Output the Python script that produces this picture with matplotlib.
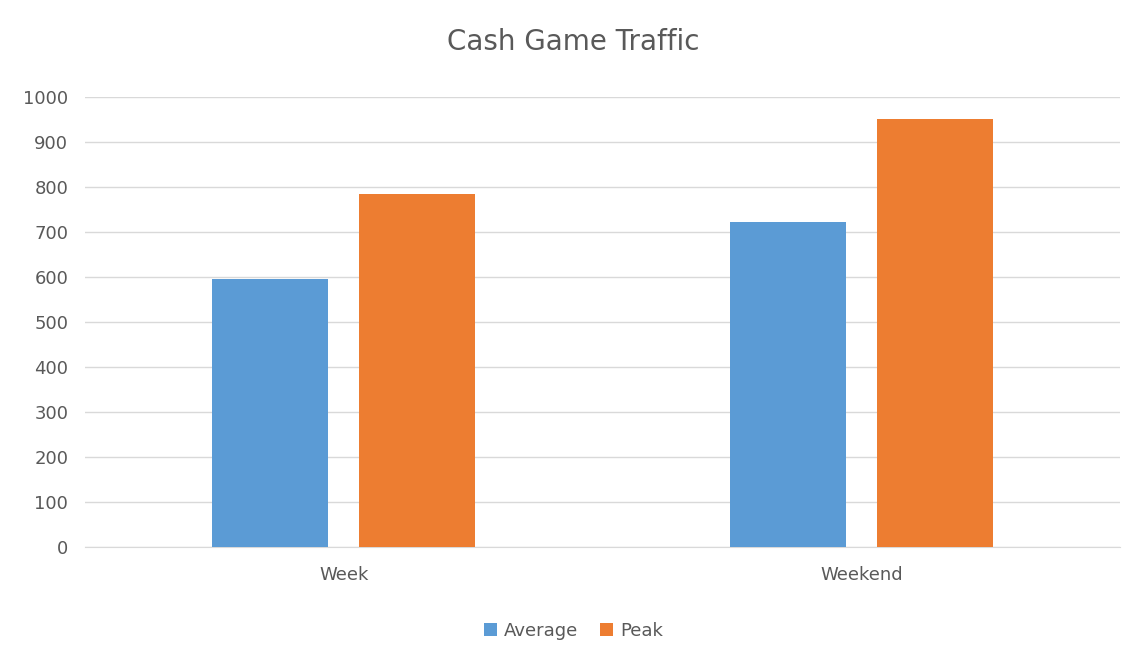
import numpy as np
import matplotlib
matplotlib.use('Agg')
from matplotlib import pyplot as plt

categories = ['Week', 'Weekend']
average = [595, 722]
peak = [785, 952]
yticks = [0, 100, 200, 300, 400, 500, 600, 700, 800, 900, 1000]

fig = plt.figure(figsize=(11.47, 6.63), dpi=100)
ax = fig.add_axes([85 / 1147, 1 - 547 / 663, 1035 / 1147, 450 / 663])

x = np.arange(len(categories))
w = 0.224
ax.bar(x - 0.142, average, w, color='#5b9bd5', label='Average', zorder=3)
ax.bar(x + 0.142, peak, w, color='#ed7d31', label='Peak', zorder=3)

ax.set_xlim(-0.5, 1.5)
ax.set_ylim(0, 1000)
ax.set_yticks(yticks)
ax.set_xticks(x)
ax.set_xticklabels(categories)
ax.grid(axis='y', color='#d9d9d9', linewidth=1, zorder=0)
for s in ['top', 'right', 'left']:
    ax.spines[s].set_visible(False)
ax.spines['bottom'].set_color('#d9d9d9')
ax.tick_params(length=0, labelsize=13, labelcolor='#595959', pad=12)
ax.tick_params(axis='x', pad=14)

fig.text(0.5, 1 - 42 / 663, 'Cash Game Traffic', ha='center', va='center',
         fontsize=20, color='#595959')
fig.legend(loc='center', bbox_to_anchor=(0.5, 1 - 631 / 663), ncol=2, frameon=False,
           fontsize=13, labelcolor='#595959', handlelength=0.7, handleheight=0.7,
           columnspacing=1.2, handletextpad=0.4)

fig.savefig('out.png', dpi=100)
